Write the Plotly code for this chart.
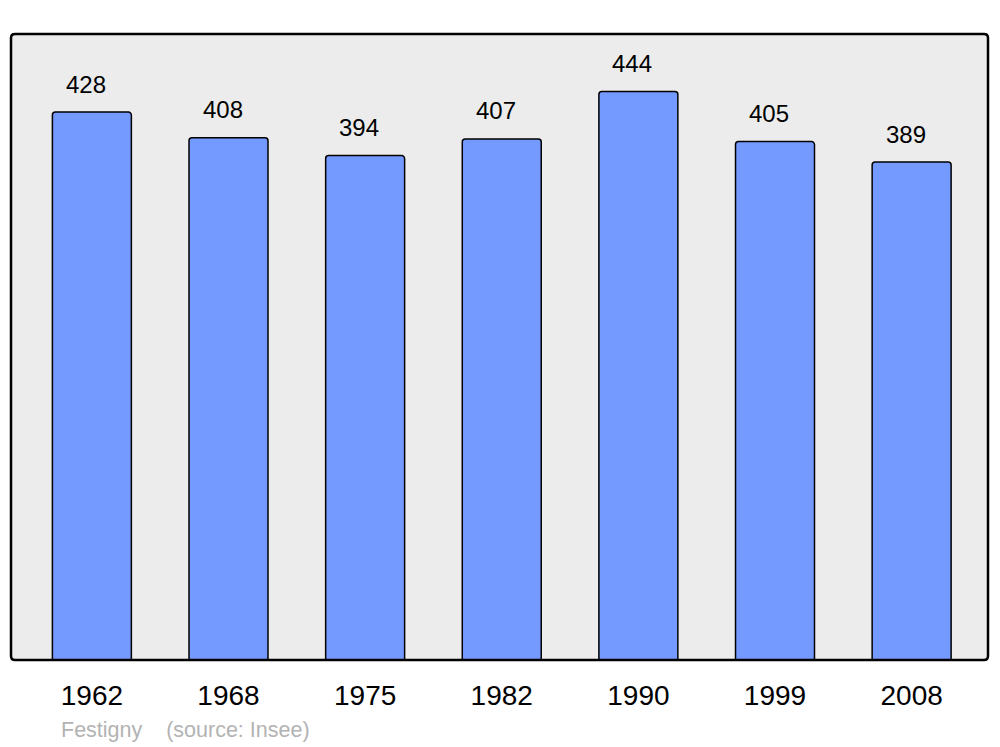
import plotly.graph_objects as go

years = ["1962", "1968", "1975", "1982", "1990", "1999", "2008"]
population = [428, 408, 394, 407, 444, 405, 389]
source_text = "Festigny    (source: Insee)"

W, H = 1000, 747
ml, mr, mt, mb = 11, 12, 34, 87
pw, ph = W - ml - mr, H - mt - mb

xs = list(range(len(years)))

fig = go.Figure()
fig.add_trace(go.Bar(
    x=xs, y=population, width=0.578,
    marker=dict(color="#7499ff", line=dict(color="#000000", width=1.5), cornerradius=3),
    hoverinfo="skip",
))

for i, v in zip(xs, population):
    fig.add_annotation(x=i, y=v, text=str(v), showarrow=False, xref="x", yref="y",
                       xshift=-6, yshift=28, yanchor="middle",
                       font=dict(family="Liberation Sans, Arial, sans-serif", size=24, color="#000000"))

fig.add_annotation(x=(59 - ml) / pw, y=(H - mb - 730) / ph, xref="paper", yref="paper", showarrow=False,
                   text=source_text, xanchor="left", yanchor="middle",
                   font=dict(family="Liberation Sans, Arial, sans-serif", size=21.5, color="#b3b3b3"))

# rounded border around plot area
r = 4
dx, dy = r / pw, r / ph
path = (f"M {dx},0 L {1-dx},0 Q 1,0 1,{dy} L 1,{1-dy} Q 1,1 {1-dx},1 "
        f"L {dx},1 Q 0,1 0,{1-dy} L 0,{dy} Q 0,0 {dx},0 Z")
fig.add_shape(type="path", path=path, xref="paper", yref="paper",
              line=dict(color="#000000", width=2.5), layer="above")

fig.update_layout(
    width=W, height=H,
    margin=dict(l=ml, r=mr, t=mt, b=mb),
    paper_bgcolor="#ffffff", plot_bgcolor="#ececec",
    showlegend=False,
    xaxis=dict(tickmode="array", tickvals=xs, ticktext=years, range=[-0.592, 6.559],
               showgrid=False, zeroline=False, showline=False, ticks="",
               ticklabelstandoff=16,
               tickfont=dict(family="Liberation Sans, Arial, sans-serif", size=28, color="#000000")),
    yaxis=dict(range=[0, 489], showgrid=False, zeroline=False, showticklabels=False, showline=False),
)

fig.write_html("out.html", config={"displayModeBar": False},
               post_script="document.body.style.margin='0';")
